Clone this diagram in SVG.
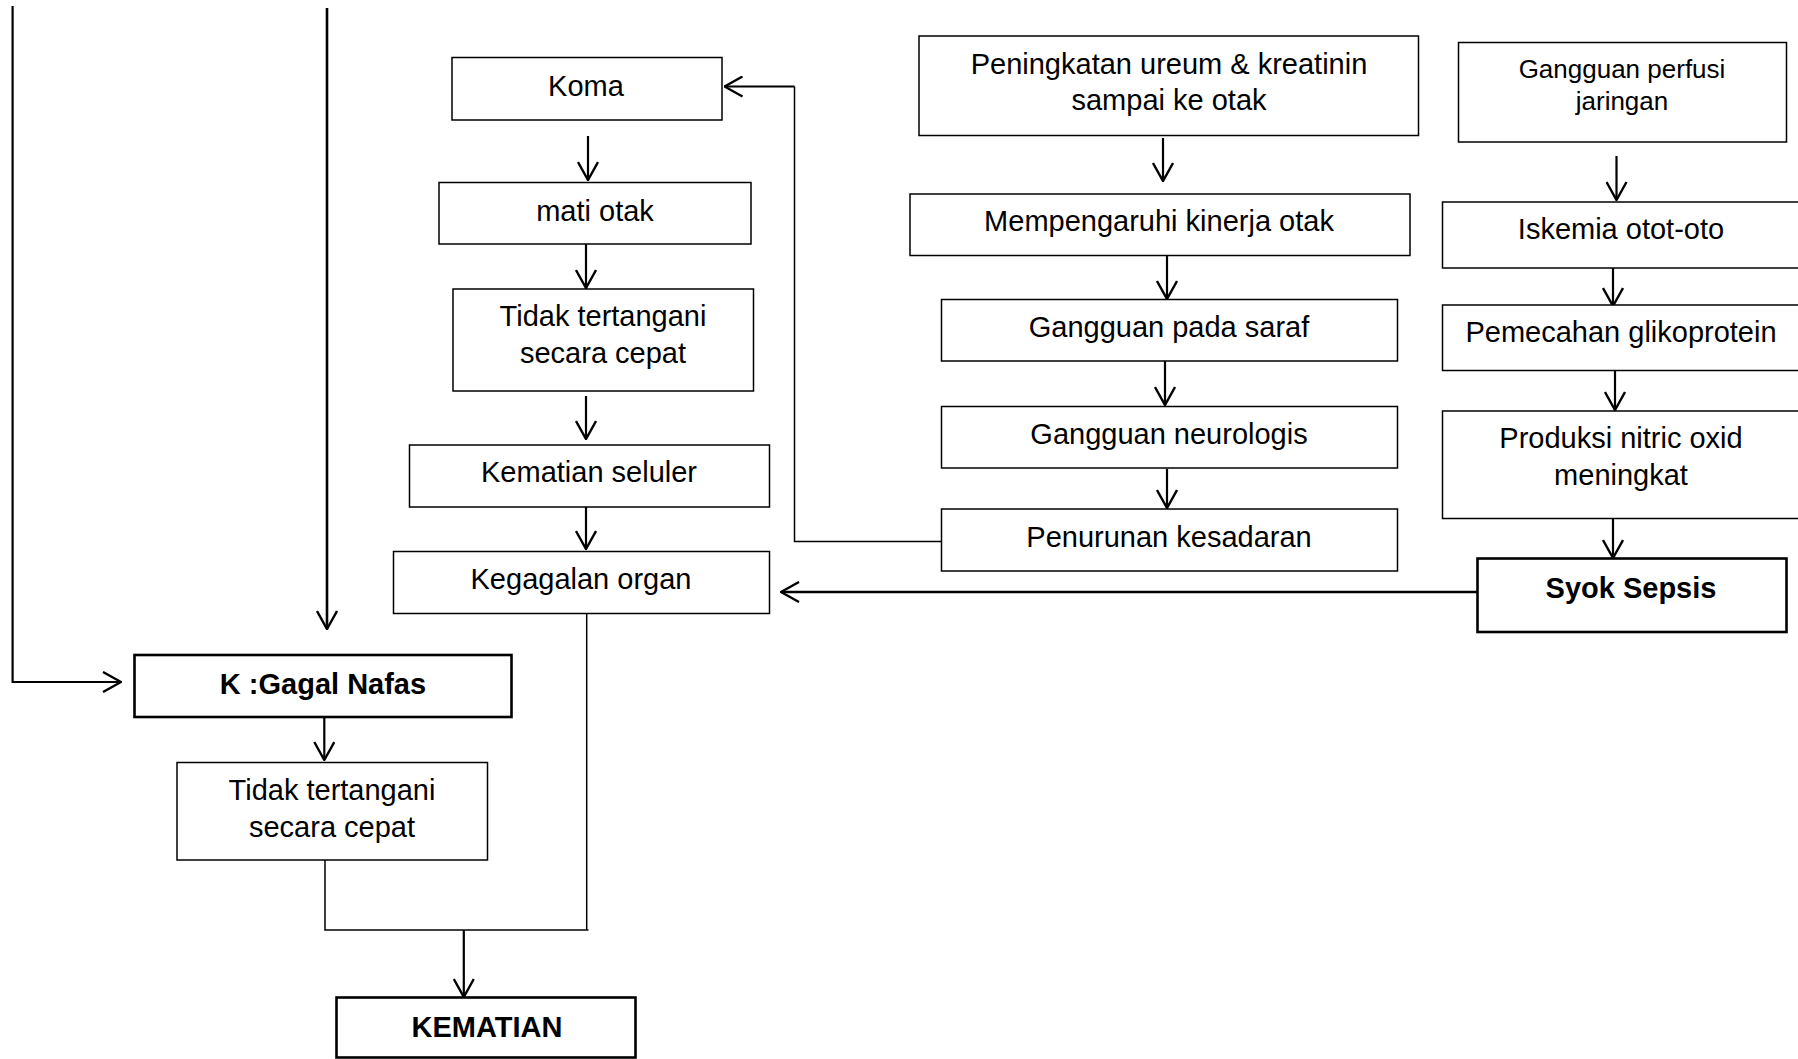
<svg xmlns="http://www.w3.org/2000/svg" width="1798" height="1059" viewBox="0 0 1798 1059">
  <style>
    .box { fill: #ffffff; stroke: #000000; stroke-width: 1.5; }
    .bold-box { fill: #ffffff; stroke: #000000; stroke-width: 2.6; }
    .t { font-family: "Liberation Sans", Arial, sans-serif; font-size: 29px; fill: #000000; text-anchor: middle; }
    .ts { font-size: 26px; }
    .b { font-weight: bold; }
    .arrow { fill: none; stroke: #000000; stroke-width: 2.2; marker-end: url(#head); }
    .line { fill: none; stroke: #000000; stroke-width: 1.5; }
    .thick { stroke-width: 2.6; }
  </style>
  <defs>
    <marker id="head" viewBox="0 0 20 22" refX="19" refY="11" markerWidth="20" markerHeight="22" markerUnits="userSpaceOnUse" orient="auto">
      <path d="M1,1 L19,11 L1,21" fill="none" stroke="#000000" stroke-width="2.4"/>
    </marker>
  </defs>
  <rect width="1798" height="1059" fill="#ffffff"/>

  <g id="connectors">
    <!-- left column feeds -->
    <polyline class="arrow" points="12.6,6 12.6,682 121,682"/>
    <line class="arrow thick" x1="327" y1="8" x2="327" y2="629"/>
    <!-- brain chain -->
    <line class="arrow" x1="588" y1="136" x2="588" y2="180"/>
    <line class="arrow" x1="586" y1="244" x2="586" y2="288"/>
    <line class="arrow" x1="586" y1="396" x2="586" y2="439"/>
    <line class="arrow" x1="586" y1="505" x2="586" y2="549"/>
    <!-- feedback: Penurunan kesadaran to Koma -->
    <polyline class="line" points="941,541.6 794.5,541.6 794.5,86.5"/>
    <line class="arrow" x1="794.5" y1="86.5" x2="724.5" y2="86.5"/>
    <!-- Syok Sepsis to Kegagalan organ -->
    <line class="arrow thick" x1="1477" y1="592" x2="781" y2="592"/>
    <!-- ureum chain -->
    <line class="arrow" x1="1163" y1="138" x2="1163" y2="181"/>
    <line class="arrow" x1="1167" y1="256" x2="1167" y2="299"/>
    <line class="arrow" x1="1165" y1="361" x2="1165" y2="405"/>
    <line class="arrow" x1="1167" y1="469" x2="1167" y2="508"/>
    <!-- perfusion chain -->
    <line class="arrow" x1="1616.5" y1="156" x2="1616.5" y2="200"/>
    <line class="arrow" x1="1613" y1="264" x2="1613" y2="306"/>
    <line class="arrow" x1="1615" y1="366" x2="1615" y2="410"/>
    <line class="arrow" x1="1613" y1="515" x2="1613" y2="558"/>
    <!-- respiratory chain -->
    <line class="arrow" x1="324.3" y1="717" x2="324.3" y2="760"/>
    <!-- merge to death -->
    <polyline class="line" points="325,860 325,930 588.5,930"/>
    <line class="line" x1="586.7" y1="608" x2="586.7" y2="930"/>
    <line class="arrow" x1="463.8" y1="930" x2="463.8" y2="997"/>
  </g>

  <g id="koma">
    <rect class="box" x="452" y="57.5" width="270" height="62.5"/>
    <text class="t" x="586" y="96">Koma</text>
  </g>
  <g id="mati-otak">
    <rect class="box" x="439" y="182.5" width="312" height="61.5"/>
    <text class="t" x="595" y="221">mati otak</text>
  </g>
  <g id="tidak-tertangani-1">
    <rect class="box" x="453" y="289" width="300.5" height="102"/>
    <text class="t" x="603" y="326">Tidak tertangani</text>
    <text class="t" x="603" y="363">secara cepat</text>
  </g>
  <g id="kematian-seluler">
    <rect class="box" x="409.5" y="445" width="360" height="62"/>
    <text class="t" x="589" y="482">Kematian seluler</text>
  </g>
  <g id="kegagalan-organ">
    <rect class="box" x="393.5" y="551.5" width="376" height="62"/>
    <text class="t" x="581" y="589">Kegagalan organ</text>
  </g>
  <g id="gagal-nafas">
    <rect class="bold-box" x="134.5" y="655" width="377" height="62"/>
    <text class="t b" x="323" y="694">K :Gagal Nafas</text>
  </g>
  <g id="tidak-tertangani-2">
    <rect class="box" x="177" y="762.5" width="310.5" height="97.5"/>
    <text class="t" x="332" y="800">Tidak tertangani</text>
    <text class="t" x="332" y="837">secara cepat</text>
  </g>
  <g id="kematian">
    <rect class="bold-box" x="336.5" y="997.5" width="299" height="60"/>
    <text class="t b" x="487" y="1037">KEMATIAN</text>
  </g>

  <g id="peningkatan-ureum">
    <rect class="box" x="919" y="36" width="499.5" height="99.5"/>
    <text class="t" x="1169" y="74">Peningkatan ureum &amp; kreatinin</text>
    <text class="t" x="1169" y="110">sampai ke otak</text>
  </g>
  <g id="mempengaruhi-otak">
    <rect class="box" x="910" y="194" width="500" height="61.5"/>
    <text class="t" x="1159" y="231">Mempengaruhi kinerja otak</text>
  </g>
  <g id="gangguan-saraf">
    <rect class="box" x="941.5" y="299.5" width="456" height="61.5"/>
    <text class="t" x="1169" y="337">Gangguan pada saraf</text>
  </g>
  <g id="gangguan-neurologis">
    <rect class="box" x="941.5" y="406.5" width="456" height="61.5"/>
    <text class="t" x="1169" y="444">Gangguan neurologis</text>
  </g>
  <g id="penurunan-kesadaran">
    <rect class="box" x="941.5" y="509" width="456" height="62"/>
    <text class="t" x="1169" y="547">Penurunan kesadaran</text>
  </g>

  <g id="gangguan-perfusi">
    <rect class="box" x="1458.5" y="42.5" width="328" height="99.5"/>
    <text class="t ts" x="1622" y="78">Gangguan perfusi</text>
    <text class="t ts" x="1622" y="110">jaringan</text>
  </g>
  <g id="iskemia">
    <rect class="box" x="1442.5" y="202" width="360" height="66"/>
    <text class="t" x="1621" y="239">Iskemia otot-oto</text>
  </g>
  <g id="pemecahan-glikoprotein">
    <rect class="box" x="1442.5" y="305" width="360" height="65.5"/>
    <text class="t" x="1621" y="342">Pemecahan glikoprotein</text>
  </g>
  <g id="produksi-no">
    <rect class="box" x="1442.5" y="411" width="360" height="107.5"/>
    <text class="t" x="1621" y="448">Produksi nitric oxid</text>
    <text class="t" x="1621" y="485">meningkat</text>
  </g>
  <g id="syok-sepsis">
    <rect class="bold-box" x="1477.5" y="558.5" width="309" height="73.5"/>
    <text class="t b" x="1631" y="598">Syok Sepsis</text>
  </g>
</svg>
